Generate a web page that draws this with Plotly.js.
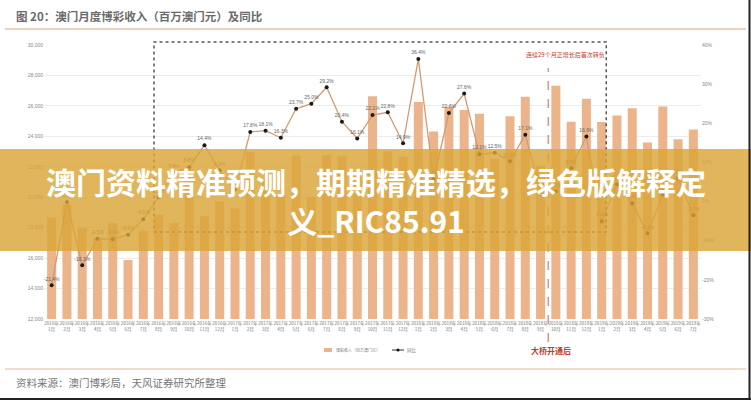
<!DOCTYPE html>
<html>
<head>
<meta charset="utf-8">
<script src="https://cdn.plot.ly/plotly-3.0.1.min.js"></script>
<style>html,body{margin:0;padding:0;background:#fff;}#chart{width:751px;height:400px;}</style>
</head>
<body>
<div id="chart"></div>
<script>
// Categories (x tick labels)
const categories = [
  "2016年<br>1月","2016年<br>2月","2016年<br>3月","2016年<br>4月","2016年<br>5月","2016年<br>6月",
  "2016年<br>7月","2016年<br>8月","2016年<br>9月","2016年<br>10月","2016年<br>11月","2016年<br>12月",
  "2017年<br>1月","2017年<br>2月","2017年<br>3月","2017年<br>4月","2017年<br>5月","2017年<br>6月",
  "2017年<br>7月","2017年<br>8月","2017年<br>9月","2017年<br>10月","2017年<br>11月","2017年<br>12月",
  "2018年<br>1月","2018年<br>2月","2018年<br>3月","2018年<br>4月","2018年<br>5月","2018年<br>6月",
  "2018年<br>7月","2018年<br>8月","2018年<br>9月","2018年<br>10月","2018年<br>11月","2018年<br>12月",
  "2019年<br>1月","2019年<br>2月","2019年<br>3月","2019年<br>4月","2019年<br>5月","2019年<br>6月",
  "2019年<br>7月"
];
// Monthly gaming revenue (MOP million)
const revenue = [
  18676, 19521, 17981, 17327, 18297, 15881, 17817, 18845, 18305, 21838, 18758, 19742,
  19255, 22994, 21230, 20168, 22745, 19990, 22780, 22692, 21500, 26633, 23000, 22680,
  26260, 24323, 25950, 25729, 25489, 22490, 25327, 26599, 22072, 27330, 24958, 26470,
  24942, 25370, 25840, 23588, 25952, 23812, 24453
];
// Year-on-year growth (%)
const yoy = [
  -21.4, -0.1, -16.3, -9.5, -9.6, -8.5, -4.5, 1.1, 7.4, 8.8, 14.4, 8.0,
  3.1, 17.8, 18.1, 16.3, 23.7, 25.0, 29.2, 20.4, 16.1, 22.1, 22.8, 14.9,
  36.4, 5.7, 22.6, 27.6, 12.1, 12.5, 10.3, 17.1, 2.5, 2.6, 8.5, 16.6,
  -5.0, 4.4, -0.4, -8.1, 1.8, 5.9, -3.5
];
const seriesNames = ["博彩收入（百万澳门元）", "同比"];
const leftTicks = [12000, 14000, 16000, 18000, 20000, 22000, 24000, 26000, 28000, 30000];
const rightTicks = [-30, -20, -10, 0, 10, 20, 30, 40];
const rightTickText = ["-30%", "-20%", "-10%", "0%", "10%", "20%", "30%", "40%"];

const L = 44, R = 701, T = 45, B = 319;
const px = x => (x - L) / (R - L);
const py = y => (B - y) / (B - T);
const CJK = "Noto Sans CJK SC, Noto Sans, sans-serif";
const barColor = "#ecb48b", lineColor = "#d39a72";

const traces = [
  {
    type: "bar", name: seriesNames[0], x: categories, y: revenue,
    marker: {color: barColor}, yaxis: "y", hoverinfo: "skip", showlegend: false
  },
  {
    type: "scatter", name: seriesNames[1], x: categories, y: yoy, yaxis: "y2",
    mode: "lines+markers+text",
    line: {color: lineColor, width: 1.3},
    marker: {color: "#1a1a1a", size: 4},
    text: yoy.map(v => v.toFixed(1) + "%"),
    textposition: "top center",
    textfont: {size: 5, color: "#666", family: "Liberation Sans, Arial"},
    cliponaxis: false, hoverinfo: "skip", showlegend: false
  }
];

const legendY = 350;
const layout = {
  width: 751, height: 400,
  margin: {l: L, r: 751 - R, t: T, b: 400 - B, pad: 0},
  paper_bgcolor: "#ffffff", plot_bgcolor: "#ffffff",
  font: {family: CJK, color: "#777"},
  bargap: 0.41,
  showlegend: false,
  xaxis: {
    type: "category", range: [-0.5, 42.5], tickangle: 0, showgrid: false, zeroline: false,
    ticks: "", tickfont: {size: 4.6, color: "#777", family: CJK}, showline: false, automargin: false
  },
  yaxis: {
    range: [12000, 30000], tickvals: leftTicks, tickformat: ",", showgrid: true,
    gridcolor: "#ececec", gridwidth: 1, zeroline: false, showline: false, ticks: "",
    tickfont: {size: 5, color: "#888", family: "Liberation Sans, Arial"}, automargin: false
  },
  yaxis2: {
    overlaying: "y", side: "right", range: [-30, 40], tickvals: rightTicks, ticktext: rightTickText,
    showgrid: false, zeroline: false, showline: false, ticks: "",
    tickfont: {size: 5, color: "#888", family: "Liberation Sans, Arial"}, automargin: false
  },
  shapes: [
    // dotted box (29 months of positive growth)
    {type: "rect", xref: "x", yref: "paper", x0: 6.7, x1: 36.3, y0: py(232), y1: py(42),
     line: {color: "#555", width: 1.5, dash: "dot"}, fillcolor: "rgba(0,0,0,0)", layer: "above"},
    // red dashed vertical line (bridge opening)
    {type: "line", xref: "x", yref: "paper", x0: 32.5, x1: 32.5, y0: py(342), y1: py(68),
     line: {color: "#d97b72", width: 1.2, dash: "dash"}, layer: "above"},
    // title underline
    {type: "line", xref: "paper", yref: "paper", x0: px(5), x1: px(746), y0: py(29), y1: py(29),
     line: {color: "#ead2bb", width: 2}, layer: "above"},
    // source line
    {type: "line", xref: "paper", yref: "paper", x0: px(5), x1: px(746), y0: py(369), y1: py(369),
     line: {color: "#f0dcca", width: 2}, layer: "above"},
    // manual legend: bar swatch
    {type: "rect", xref: "paper", yref: "paper", x0: px(324), x1: px(332), y0: py(legendY + 2), y1: py(legendY - 2),
     line: {width: 0}, fillcolor: barColor, layer: "above"},
    // manual legend: line swatch + dot
    {type: "line", xref: "paper", yref: "paper", x0: px(392), x1: px(404), y0: py(legendY), y1: py(legendY),
     line: {color: "#333", width: 1}, layer: "above"},
    {type: "circle", xref: "paper", yref: "paper", x0: px(396.5), x1: px(399.5), y0: py(legendY + 1.5), y1: py(legendY - 1.5),
     line: {width: 0}, fillcolor: "#111", layer: "above"},
    // banner overlay
    {type: "rect", xref: "paper", yref: "paper", x0: px(-2), x1: px(753), y0: py(251), y1: py(149),
     line: {width: 0}, fillcolor: "rgba(219,165,55,0.82)", layer: "above"},
    // border lines
    {type: "line", xref: "paper", yref: "paper", x0: px(749.5), x1: px(749.5), y0: py(401), y1: py(-1),
     line: {color: "#222", width: 2}, layer: "above"},
    {type: "line", xref: "paper", yref: "paper", x0: px(-1), x1: px(752), y0: py(399), y1: py(399),
     line: {color: "#222", width: 2}, layer: "above"}
  ],
  annotations: [
    {xref: "paper", yref: "paper", x: px(14), y: py(16), xanchor: "left", yanchor: "middle",
     text: "<b>图 20：澳门月度博彩收入（百万澳门元）及同比</b>", showarrow: false,
     font: {size: 11.5, color: "#6a6a6a", family: CJK}},
    {xref: "paper", yref: "paper", x: px(14), y: py(382), xanchor: "left", yanchor: "middle",
     text: "资料来源：澳门博彩局，天风证券研究所整理", showarrow: false,
     font: {size: 10.5, color: "#777", family: CJK}},
    {xref: "paper", yref: "paper", x: px(565), y: py(55), xanchor: "center", yanchor: "middle",
     text: "连续29个月正增长后首次转负", showarrow: false,
     font: {size: 6, color: "#c0392b", family: CJK}},
    {xref: "paper", yref: "paper", x: px(551), y: py(350), xanchor: "center", yanchor: "middle",
     text: "<b>大桥开通后</b>", showarrow: false,
     font: {size: 8, color: "#c0392b", family: CJK}},
    // manual legend texts
    {xref: "paper", yref: "paper", x: px(334), y: py(legendY), xanchor: "left", yanchor: "middle",
     text: seriesNames[0], showarrow: false, font: {size: 4, color: "#777", family: CJK}},
    {xref: "paper", yref: "paper", x: px(405), y: py(legendY), xanchor: "left", yanchor: "middle",
     text: seriesNames[1], showarrow: false, font: {size: 4.5, color: "#777", family: CJK}},
    // banner text
    {xref: "paper", yref: "paper", x: px(376), y: py(200), xanchor: "center", yanchor: "middle",
     align: "center",
     text: "<b>澳门资料精准预测，期期精准精选，绿色版解释定<br>义_RIC85.91</b>", showarrow: false,
     font: {size: 30, color: "#ffffff", family: CJK}}
  ]
};

Plotly.newPlot("chart", traces, layout, {displayModeBar: false, staticPlot: true});
</script>
</body>
</html>
